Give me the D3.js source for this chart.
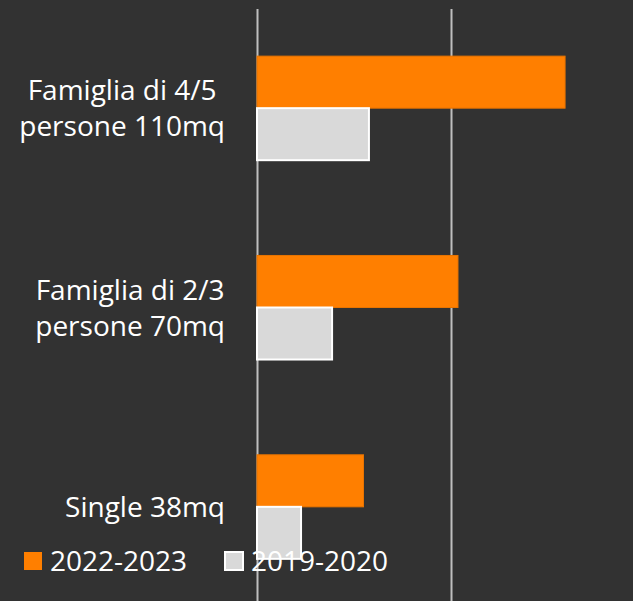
<!DOCTYPE html>
<html><head><meta charset="utf-8">
<script src="https://cdn.jsdelivr.net/npm/d3@7"></script>
<style>html,body{margin:0;padding:0;background:#323232;overflow:hidden}</style>
</head><body>
<script>
const categories = ["Famiglia di 4/5|persone 110mq", "Famiglia di 2/3|persone 70mq", "Single 38mq"];
const seriesNames = ["2022-2023", "2019-2020"];
const values2022 = [1588, 1036, 549];
const values2019 = [577, 387, 227];
const gridTicks = [0, 1000, 2000];

const W = 633, H = 601;
const colors = {"2022-2023": "#FF7F00", "2019-2020": "#D9D9D9"};
const font = "'Open Sans', sans-serif";

const svg = d3.select("body").append("svg").attr("width", W).attr("height", H);
svg.append("rect").attr("width", W).attr("height", H).attr("fill", "#323232");

const x = d3.scaleLinear().domain([0, 2000]).range([257, 645]);
const y0 = d3.scaleBand().domain(categories).range([8.5, 606.5]).paddingInner(0.478).paddingOuter(0.239);
const y1 = d3.scaleBand().domain(seriesNames).range([0, y0.bandwidth()]);

// gridlines
const gx = svg.append("g").attr("transform", "translate(0,9)")
  .call(d3.axisBottom(x).tickValues(gridTicks).tickSize(H).tickFormat(""));
gx.select(".domain").remove();
gx.selectAll(".tick line").attr("stroke", "#BFBFBF").attr("stroke-width", 2);

const data = categories.map((c, i) => ({cat: c, vals: [
  {s: "2022-2023", v: values2022[i]}, {s: "2019-2020", v: values2019[i]}]}));

const grp = svg.append("g").selectAll("g").data(data).join("g")
  .attr("transform", d => `translate(0,${y0(d.cat)})`);
grp.selectAll("rect").data(d => d.vals).join("rect")
  .attr("x", x(0))
  .attr("y", d => y1(d.s))
  .attr("height", y1.bandwidth())
  .attr("width", d => x(d.v) - x(0))
  .attr("fill", d => colors[d.s])
  .attr("stroke", d => d.s === "2019-2020" ? "#FFFFFF" : "#E87400")
  .attr("stroke-width", d => d.s === "2019-2020" ? 2 : 1);

// category labels
const fs = 28, lh = 36, rightEdge = 225;
data.forEach(d => {
  const lines = d.cat.split("|");
  const cy = y0(d.cat) + y0.bandwidth() / 2;
  const g = svg.append("g");
  const texts = lines.map((l, i) => g.append("text").text(l)
    .attr("font-family", font).attr("font-size", fs).attr("fill", "#FFFFFF")
    .attr("text-anchor", "middle")
    .attr("y", cy + (i - (lines.length - 1) / 2) * lh + fs * 0.36));
  const wmax = d3.max(texts, t => t.node().getComputedTextLength());
  texts.forEach(t => t.attr("x", rightEdge - wmax / 2));
});

// legend
const legend = svg.append("g");
const legX = [24, 225];
seriesNames.forEach((s, i) => {
  legend.append("rect").attr("x", legX[i]).attr("y", 552).attr("width", 18).attr("height", 18)
    .attr("fill", colors[s])
    .attr("stroke", i === 1 ? "#FFFFFF" : "none").attr("stroke-width", 2);
  legend.append("text").text(s).attr("x", legX[i] + 26).attr("y", 571)
    .attr("font-family", font).attr("font-size", fs).attr("fill", "#FFFFFF");
});
</script>
</body></html>
